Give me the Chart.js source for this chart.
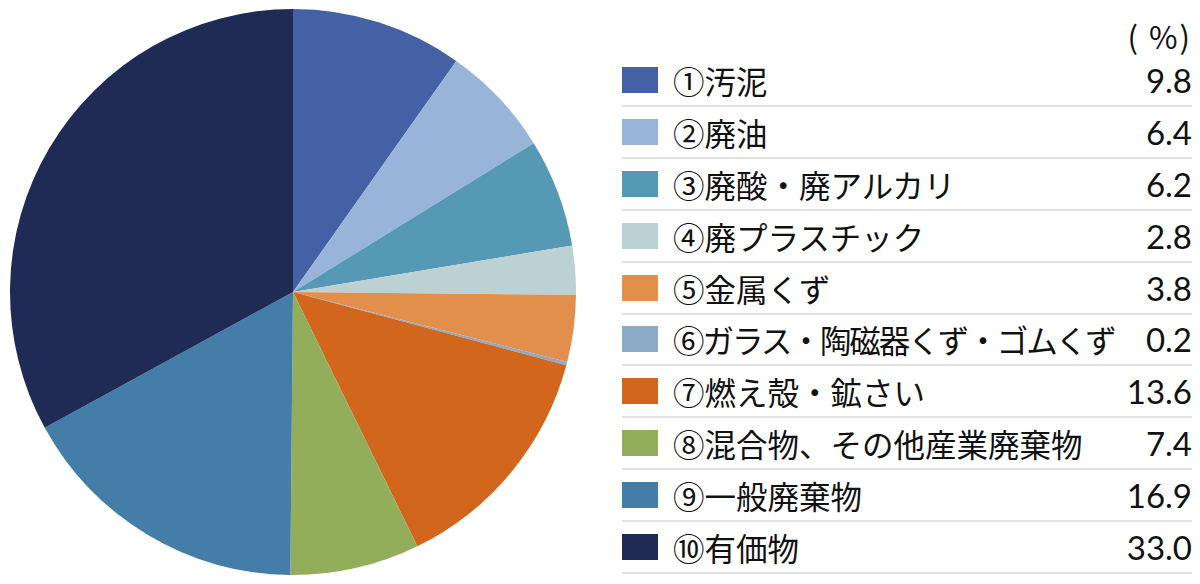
<!DOCTYPE html>
<html>
<head>
<meta charset="utf-8">
<script src="https://cdn.jsdelivr.net/npm/chart.js@4/dist/chart.umd.min.js"></script>
<style>
  html, body { margin: 0; padding: 0; background: #fff; }
  body { width: 1200px; height: 584px; position: relative; overflow: hidden;
         font-family: "Noto Sans CJK JP", "Noto Sans", sans-serif; color: #111; }
  #wrap { position: absolute; left: 0; top: 0; width: 586px; height: 584px; }
  #unit { position: absolute; right: 8px; top: 14px; font-size: 31px; line-height: 44px; letter-spacing: 2px; }
  #legend { position: absolute; left: 622px; top: 55.6px; width: 570px; }
  .row { height: 49.8px; border-bottom: 2px solid #e3e3e3; display: flex; align-items: center; }
  .sw { width: 36px; height: 26px; flex: none; }
  .lab { margin-left: 15px; font-size: 31.5px; flex: 1; white-space: nowrap; }
  .val { font-family: Lato, "Noto Sans", sans-serif; font-weight: 400; font-size: 33px;
         text-align: right; white-space: nowrap; color: #111; }
</style>
</head>
<body>
<div id="wrap"><canvas id="c"></canvas></div>
<div id="unit">( %)</div>
<div id="legend"></div>
<script>
const categories = [
  "①汚泥",
  "②廃油",
  "③廃酸・廃アルカリ",
  "④廃プラスチック",
  "⑤金属くず",
  "⑥ガラス・陶磁器くず・ゴムくず",
  "⑦燃え殻・鉱さい",
  "⑧混合物、その他産業廃棄物",
  "⑨一般廃棄物",
  "⑩有価物"
];
const values = [9.8, 6.4, 6.2, 2.8, 3.8, 0.2, 13.6, 7.4, 16.9, 33.0];
const valueLabels = ["9.8", "6.4", "6.2", "2.8", "3.8", "0.2", "13.6", "7.4", "16.9", "33.0"];
const colors = [
  "#4361a4", "#98b5d9", "#5599b4", "#bcd1d3", "#e38f4c",
  "#8eaac9", "#d2661c", "#93ae5b", "#447da8", "#1f2b55"
];

new Chart(document.getElementById("c"), {
  type: "pie",
  data: {
    labels: categories,
    datasets: [{ data: values, backgroundColor: colors, borderWidth: 0 }]
  },
  options: {
    responsive: true,
    maintainAspectRatio: false,
    animation: false,
    layout: { padding: 9 },
    plugins: { legend: { display: false }, tooltip: { enabled: false } }
  }
});

const legend = document.getElementById("legend");
categories.forEach((c, i) => {
  const row = document.createElement("div");
  row.className = "row";
  const ls = c.length > 13 ? "letter-spacing:-2px;" : "";
  row.innerHTML = '<div class="sw" style="background:' + colors[i] + '"></div>' +
    '<div class="lab" style="' + ls + '">' + c + '</div><div class="val">' + valueLabels[i] + '</div>';
  legend.appendChild(row);
});
</script>
</body>
</html>
